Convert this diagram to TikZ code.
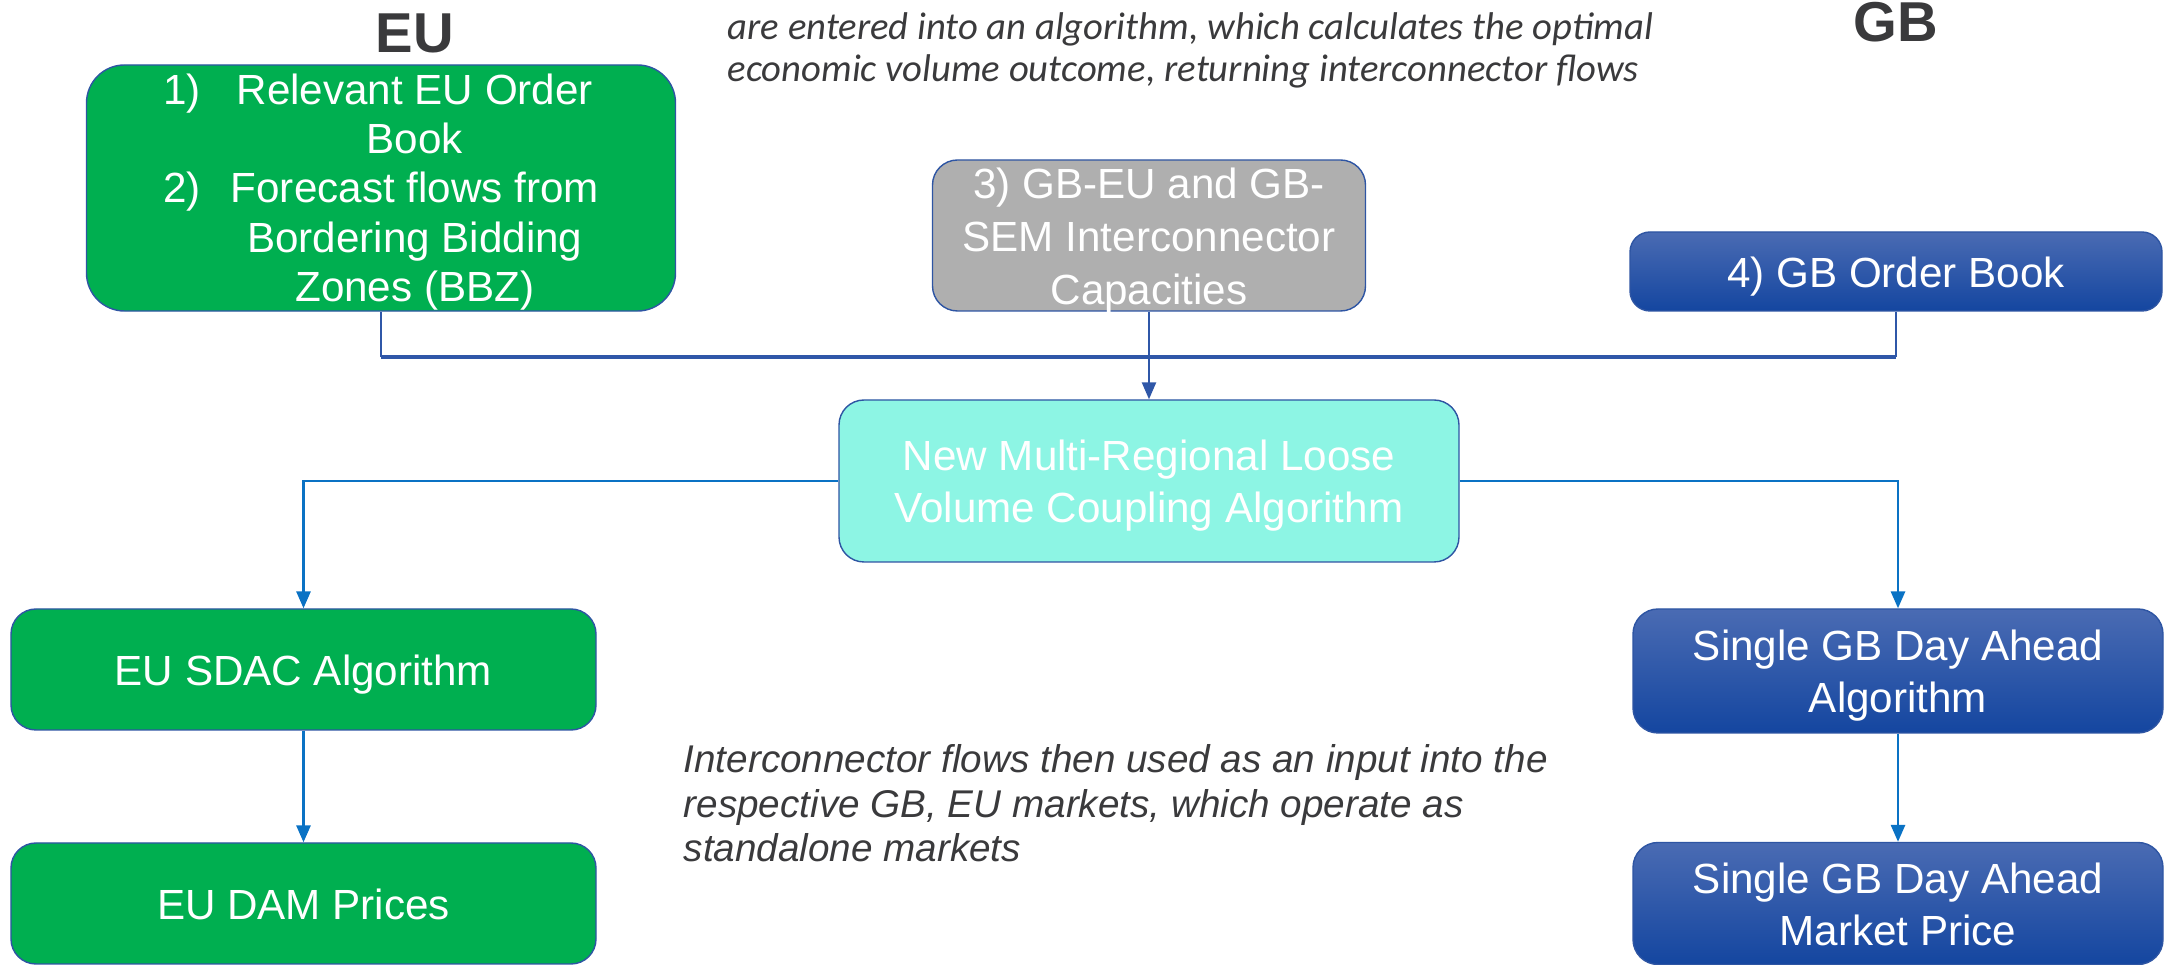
\documentclass[tikz,border=0pt]{standalone}
\usepackage{fontspec}
\setmainfont{Liberation Sans}
\newfontfamily\calibri{Carlito}
\usetikzlibrary{positioning,arrows.meta}

\definecolor{eugreen}{HTML}{00AF50}
\definecolor{capgrey}{HTML}{AFAFAF}
\definecolor{aqua}{HTML}{8DF5E4}
\definecolor{gbtop}{HTML}{4A6BB3}
\definecolor{gbmid}{HTML}{1D4FA6}
\definecolor{gbbot}{HTML}{1446A0}
\definecolor{edgeblue}{HTML}{2E55A3}
\definecolor{busblue}{HTML}{2F57A8}
\definecolor{flowblue}{HTML}{0A72C4}
\definecolor{inkgrey}{HTML}{3A3A3C}

% box text sits a little below the middle
\newcommand{\sink}[1]{\raisebox{-0.055cm}[\dimexpr\height-0.1cm\relax][\dimexpr\depth-0.1cm\relax]{\begin{tabular}{@{}c@{}}#1\end{tabular}}}

\begin{document}
\begin{tikzpicture}[node distance=1cm]
    \tikzstyle{box} = [rectangle, draw=edgeblue, line width=0.4pt, rounded corners=0.25cm,
                       text=white, align=center, inner sep=0pt,
                       font=\fontsize{12}{14.8}\selectfont]
    \tikzstyle{eubox} = [box, fill=eugreen, minimum width=5.85cm, minimum height=1.21cm]
    \tikzstyle{gbbox} = [box, shading=axis, top color=gbtop, middle color=gbmid, bottom color=gbbot,
                         minimum width=5.30cm, minimum height=1.22cm]
    \tikzstyle{title} = [text=inkgrey, font=\fontsize{16}{19}\selectfont\bfseries, anchor=base]
    \tikzstyle{remark} = [text=inkgrey, align=left, inner sep=0pt, anchor=base west]
    \tikzstyle{bus} = [draw=busblue, line width=1.1pt]
    \tikzstyle{feed} = [draw=busblue, line width=0.55pt]
    \tikzstyle{flow} = [draw=flowblue, line width=0.7pt, -{Triangle[length=4.8pt,width=4pt]}]
    \useasboundingbox (0,0) rectangle (21.64,-9.65);
  \node[box, fill=aqua, minimum width=6.20cm, minimum height=1.62cm](coupling) at (11.49,-4.81)
       {\sink{New Multi-Regional Loose\\Volume Coupling Algorithm}};
  \node[box, fill=capgrey, minimum width=4.33cm, minimum height=1.51cm, font=\fontsize{12}{15}\selectfont,
        above of=coupling, yshift=1.455cm](caps)
       {\sink{3) GB-EU and GB-\\SEM Interconnector\\Capacities}};
  \node[box, fill=eugreen, rounded corners=0.38cm, minimum width=5.89cm, minimum height=2.46cm,
        font=\fontsize{12}{14}\selectfont,
        above of=coupling, xshift=-7.68cm, yshift=1.93cm](eubook)
       {\raisebox{-0.05cm}[\height][\depth]{\begin{tabular}{@{}r@{\hspace{0.3cm}}c@{}}
        1) & Relevant EU Order\\
           & Book\\
        2) & Forecast flows from\\
           & Bordering Bidding\\
           & Zones (BBZ)
        \end{tabular}}};
  \node[gbbox, minimum width=5.32cm, minimum height=0.79cm, rounded corners=0.2cm,
        above of=coupling, xshift=7.47cm, yshift=1.095cm](gbbook){\sink{4) GB Order Book}};
  \node[eubox, below of=coupling, xshift=-8.455cm, yshift=-0.885cm](sdac){\sink{EU SDAC Algorithm}};
  \node[eubox, below of=sdac, yshift=-1.34cm](dam){\sink{EU DAM Prices}};
  \node[gbbox, below of=coupling, xshift=7.49cm, yshift=-0.90cm, minimum height=1.24cm](gbalgo)
       {\sink{Single GB Day Ahead\\Algorithm}};
  \node[gbbox, below of=gbalgo, yshift=-1.325cm](gbprice){\sink{Single GB Day Ahead\\Market Price}};
  \node[title](eutitle) at (4.15,-0.53){EU};
  \node[title](gbtitle) at (18.96,-0.415){GB};
  \node[remark, font=\calibri\itshape\fontsize{11}{11.95}\selectfont](intro) at (7.27,-0.82)
       {are entered into an algorithm, which calculates the optimal\\
        economic volume outcome, returning interconnector flows};
  \node[remark, font=\itshape\fontsize{11}{12.8}\selectfont](outro) at (6.83,-8.62)
       {Interconnector flows then used as an input into the\\
        respective GB, EU markets, which operate as\\
        standalone markets};
  \coordinate (join) at (11.49,-3.57);
  \draw[feed] (eubook.south) -- (eubook.south |- join);
  \draw[feed] (gbbook.south) -- (gbbook.south |- join);
  \draw[bus] (eubook.south |- join) -- (gbbook.south |- join);
  \draw[feed, -{Triangle[length=4.8pt,width=4pt]}] (caps) -- (coupling);
  \draw[flow] (coupling.west) -| (sdac.north);
  \draw[flow] (coupling.east) -| (gbalgo.north);
  \draw[flow] (sdac) -- (dam);
  \draw[flow] (gbalgo) -- (gbprice);
\end{tikzpicture}
\end{document}
